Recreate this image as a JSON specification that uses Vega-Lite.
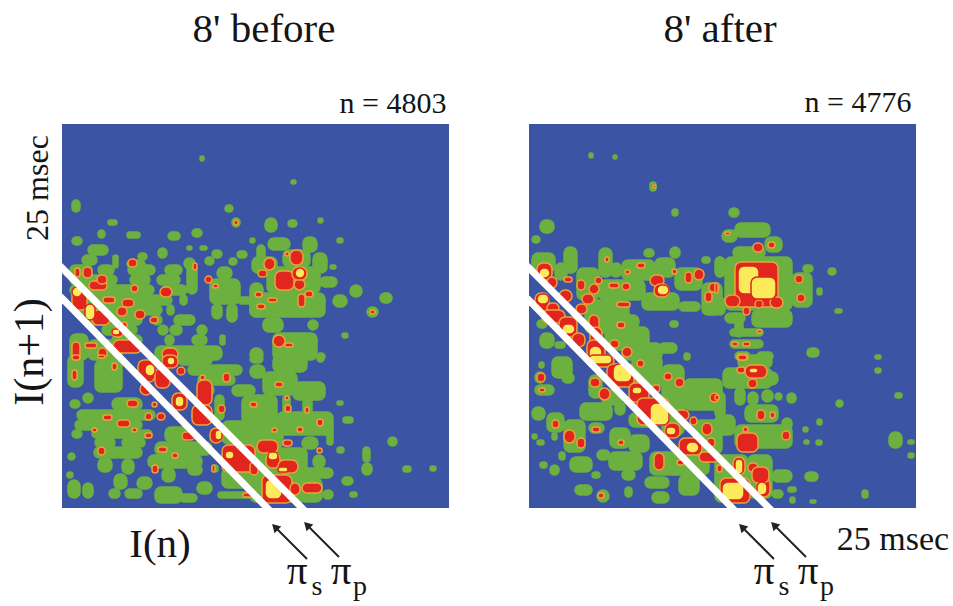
{"$schema":"https://vega.github.io/schema/vega-lite/v6.json","padding":{"left":9,"top":9,"right":0,"bottom":0},"spacing":80,"config":{"view":{"fill":"#3b54a4","stroke":null},"text":{"font":"Liberation Serif","color":"#151515"}},"datasets":{"before":[
{"x":10,"x2":18,"y":76,"y2":88,"l":"g"},{"x":138,"x2":142,"y":32,"y2":37,"l":"g"},{"x":229,"x2":234,"y":56,"y2":60,"l":"g"},{"x":163,"x2":171,"y":81,"y2":88,"l":"g"},{"x":170,"x2":178,"y":94,"y2":103,"l":"g"},{"x":46,"x2":55,"y":96,"y2":101,"l":"g"},{"x":36,"x2":43,"y":106,"y2":114,"l":"g"},{"x":65,"x2":78,"y":108,"y2":114,"l":"g"},{"x":10,"x2":20,"y":113,"y2":121,"l":"g"},{"x":106,"x2":118,"y":108,"y2":116,"l":"g"},{"x":130,"x2":140,"y":105,"y2":113,"l":"g"},{"x":125,"x2":130,"y":122,"y2":126,"l":"g"},{"x":138,"x2":145,"y":122,"y2":126,"l":"g"},{"x":96,"x2":105,"y":124,"y2":134,"l":"g"},
{"x":26,"x2":46,"y":121,"y2":131,"l":"g"},{"x":20,"x2":35,"y":131,"y2":141,"l":"g"},{"x":76,"x2":85,"y":129,"y2":136,"l":"g"},{"x":51,"x2":56,"y":131,"y2":144,"l":"g"},{"x":65,"x2":83,"y":136,"y2":144,"l":"g"},{"x":8,"x2":30,"y":141,"y2":151,"l":"g"},{"x":36,"x2":52,"y":141,"y2":151,"l":"g"},{"x":66,"x2":93,"y":141,"y2":151,"l":"g"},{"x":103,"x2":120,"y":141,"y2":151,"l":"g"},{"x":8,"x2":55,"y":151,"y2":161,"l":"g"},{"x":68,"x2":88,"y":151,"y2":161,"l":"g"},{"x":95,"x2":118,"y":151,"y2":161,"l":"g"},{"x":8,"x2":92,"y":161,"y2":171,"l":"g"},{"x":100,"x2":125,"y":161,"y2":171,"l":"g"},{"x":10,"x2":110,"y":171,"y2":181,"l":"g"},{"x":118,"x2":125,"y":171,"y2":181,"l":"g"},{"x":15,"x2":100,"y":181,"y2":191,"l":"g"},{"x":105,"x2":112,"y":181,"y2":191,"l":"g"},{"x":20,"x2":80,"y":191,"y2":201,"l":"g"},{"x":90,"x2":100,"y":191,"y2":201,"l":"g"},{"x":112,"x2":133,"y":191,"y2":201,"l":"g"},{"x":40,"x2":75,"y":201,"y2":211,"l":"g"},{"x":96,"x2":106,"y":201,"y2":211,"l":"g"},{"x":108,"x2":120,"y":201,"y2":211,"l":"g"},{"x":135,"x2":145,"y":201,"y2":211,"l":"g"},{"x":50,"x2":80,"y":211,"y2":221,"l":"g"},{"x":103,"x2":112,"y":211,"y2":221,"l":"g"},{"x":130,"x2":145,"y":211,"y2":221,"l":"g"},{"x":158,"x2":163,"y":211,"y2":221,"l":"g"},
{"x":122,"x2":133,"y":134,"y2":145,"l":"g"},{"x":125,"x2":135,"y":142,"y2":170,"l":"g"},{"x":143,"x2":152,"y":133,"y2":141,"l":"g"},{"x":150,"x2":160,"y":126,"y2":134,"l":"g"},{"x":167,"x2":175,"y":134,"y2":141,"l":"g"},{"x":175,"x2":185,"y":127,"y2":134,"l":"g"},{"x":155,"x2":170,"y":143,"y2":155,"l":"g"},{"x":148,"x2":178,"y":155,"y2":180,"l":"g"},{"x":150,"x2":160,"y":180,"y2":195,"l":"g"},{"x":165,"x2":175,"y":180,"y2":198,"l":"g"},{"x":176,"x2":193,"y":173,"y2":180,"l":"g"},
{"x":8,"x2":26,"y":210,"y2":236,"l":"g"},{"x":26,"x2":60,"y":216,"y2":236,"l":"g"},{"x":93,"x2":160,"y":222,"y2":236,"l":"g"},
{"x":6,"x2":21,"y":231,"y2":263,"l":"g"},{"x":33,"x2":60,"y":236,"y2":268,"l":"g"},{"x":21,"x2":31,"y":269,"y2":279,"l":"g"},{"x":8,"x2":18,"y":276,"y2":284,"l":"g"},{"x":50,"x2":80,"y":274,"y2":286,"l":"g"},{"x":15,"x2":93,"y":286,"y2":296,"l":"g"},{"x":13,"x2":80,"y":296,"y2":306,"l":"g"},{"x":10,"x2":20,"y":306,"y2":314,"l":"g"},{"x":30,"x2":90,"y":306,"y2":314,"l":"g"},{"x":33,"x2":53,"y":314,"y2":323,"l":"g"},{"x":60,"x2":83,"y":314,"y2":323,"l":"g"},{"x":32,"x2":60,"y":323,"y2":334,"l":"g"},{"x":53,"x2":80,"y":323,"y2":334,"l":"g"},{"x":36,"x2":50,"y":334,"y2":348,"l":"g"},{"x":60,"x2":72,"y":335,"y2":350,"l":"g"},{"x":52,"x2":65,"y":350,"y2":365,"l":"g"},{"x":47,"x2":58,"y":365,"y2":374,"l":"g"},{"x":5,"x2":11,"y":348,"y2":354,"l":"g"},{"x":6,"x2":18,"y":356,"y2":374,"l":"g"},{"x":21,"x2":31,"y":359,"y2":374,"l":"g"},{"x":75,"x2":90,"y":353,"y2":365,"l":"g"},{"x":63,"x2":80,"y":365,"y2":374,"l":"g"},{"x":6,"x2":13,"y":329,"y2":336,"l":"g"},{"x":93,"x2":120,"y":363,"y2":379,"l":"g"},{"x":118,"x2":135,"y":370,"y2":378,"l":"g"},{"x":135,"x2":150,"y":358,"y2":370,"l":"g"},{"x":156,"x2":193,"y":368,"y2":374,"l":"g"},
{"x":103,"x2":126,"y":303,"y2":318,"l":"g"},{"x":93,"x2":150,"y":318,"y2":331,"l":"g"},{"x":86,"x2":140,"y":331,"y2":344,"l":"g"},{"x":100,"x2":113,"y":344,"y2":358,"l":"g"},{"x":126,"x2":140,"y":341,"y2":351,"l":"g"},{"x":150,"x2":156,"y":341,"y2":348,"l":"g"},{"x":160,"x2":193,"y":344,"y2":364,"l":"g"},
{"x":116,"x2":150,"y":231,"y2":241,"l":"g"},{"x":126,"x2":180,"y":241,"y2":251,"l":"g"},{"x":136,"x2":173,"y":251,"y2":261,"l":"g"},{"x":143,"x2":152,"y":261,"y2":271,"l":"g"},{"x":170,"x2":193,"y":261,"y2":272,"l":"g"},{"x":153,"x2":162,"y":271,"y2":296,"l":"g"},{"x":180,"x2":193,"y":272,"y2":300,"l":"g"},{"x":160,"x2":193,"y":297,"y2":320,"l":"g"},
{"x":203,"x2":215,"y":94,"y2":108,"l":"g"},{"x":226,"x2":235,"y":96,"y2":103,"l":"g"},{"x":256,"x2":261,"y":94,"y2":99,"l":"g"},{"x":188,"x2":193,"y":114,"y2":119,"l":"g"},{"x":206,"x2":228,"y":114,"y2":126,"l":"g"},{"x":241,"x2":255,"y":113,"y2":128,"l":"g"},{"x":275,"x2":281,"y":114,"y2":119,"l":"g"},{"x":195,"x2":203,"y":121,"y2":139,"l":"g"},{"x":190,"x2":215,"y":133,"y2":149,"l":"g"},{"x":251,"x2":265,"y":129,"y2":149,"l":"g"},{"x":268,"x2":274,"y":141,"y2":145,"l":"g"},{"x":221,"x2":248,"y":126,"y2":143,"l":"g"},{"x":205,"x2":258,"y":143,"y2":169,"l":"g"},{"x":258,"x2":275,"y":153,"y2":163,"l":"g"},{"x":188,"x2":263,"y":169,"y2":193,"l":"g"},{"x":188,"x2":201,"y":159,"y2":193,"l":"g"},{"x":271,"x2":285,"y":171,"y2":183,"l":"g"},{"x":288,"x2":300,"y":161,"y2":173,"l":"g"},{"x":318,"x2":330,"y":169,"y2":179,"l":"g"},{"x":305,"x2":316,"y":183,"y2":193,"l":"g"},{"x":201,"x2":221,"y":194,"y2":208,"l":"g"},{"x":246,"x2":256,"y":196,"y2":206,"l":"g"},{"x":280,"x2":286,"y":209,"y2":214,"l":"g"},{"x":211,"x2":255,"y":209,"y2":236,"l":"g"},{"x":188,"x2":201,"y":224,"y2":236,"l":"g"},{"x":255,"x2":263,"y":229,"y2":236,"l":"g"},
{"x":188,"x2":201,"y":231,"y2":239,"l":"g"},{"x":211,"x2":245,"y":231,"y2":248,"l":"g"},{"x":255,"x2":262,"y":231,"y2":238,"l":"g"},{"x":188,"x2":203,"y":241,"y2":254,"l":"g"},{"x":201,"x2":235,"y":248,"y2":271,"l":"g"},{"x":231,"x2":263,"y":258,"y2":276,"l":"g"},{"x":221,"x2":228,"y":271,"y2":291,"l":"g"},{"x":241,"x2":250,"y":273,"y2":291,"l":"g"},{"x":188,"x2":215,"y":271,"y2":308,"l":"g"},{"x":215,"x2":271,"y":288,"y2":311,"l":"g"},{"x":265,"x2":271,"y":304,"y2":321,"l":"g"},{"x":240,"x2":256,"y":313,"y2":325,"l":"g"},{"x":218,"x2":245,"y":325,"y2":335,"l":"g"},{"x":251,"x2":263,"y":331,"y2":344,"l":"g"},{"x":235,"x2":271,"y":344,"y2":354,"l":"g"},{"x":238,"x2":260,"y":354,"y2":378,"l":"g"},{"x":261,"x2":271,"y":366,"y2":375,"l":"g"},{"x":280,"x2":291,"y":353,"y2":361,"l":"g"},{"x":288,"x2":295,"y":368,"y2":373,"l":"g"},{"x":275,"x2":281,"y":277,"y2":281,"l":"g"},{"x":281,"x2":291,"y":293,"y2":299,"l":"g"},{"x":275,"x2":282,"y":323,"y2":329,"l":"g"},{"x":301,"x2":308,"y":323,"y2":338,"l":"g"},{"x":300,"x2":310,"y":339,"y2":351,"l":"g"},{"x":326,"x2":335,"y":313,"y2":322,"l":"g"},{"x":341,"x2":349,"y":342,"y2":348,"l":"g"},{"x":368,"x2":374,"y":342,"y2":347,"l":"g"},{"x":188,"x2":221,"y":304,"y2":324,"l":"g"},{"x":188,"x2":245,"y":324,"y2":378,"l":"g"},
{"x":66,"x2":75,"y":135,"y2":143,"l":"r"},{"x":13,"x2":18,"y":144,"y2":153,"l":"r"},{"x":21,"x2":30,"y":143,"y2":154,"l":"r"},{"x":27,"x2":45,"y":157,"y2":166,"l":"r"},{"x":35,"x2":45,"y":151,"y2":160,"l":"r"},{"x":10,"x2":25,"y":163,"y2":186,"l":"r"},{"x":41,"x2":53,"y":173,"y2":179,"l":"r"},{"x":55,"x2":65,"y":183,"y2":192,"l":"r"},{"x":60,"x2":72,"y":175,"y2":183,"l":"r"},{"x":30,"x2":48,"y":186,"y2":201,"l":"r"},{"x":69,"x2":76,"y":161,"y2":168,"l":"r"},{"x":73,"x2":83,"y":186,"y2":195,"l":"r"},{"x":98,"x2":110,"y":163,"y2":173,"l":"r"},{"x":88,"x2":96,"y":193,"y2":199,"l":"r"},{"x":143,"x2":150,"y":152,"y2":159,"l":"r"},{"x":151,"x2":156,"y":160,"y2":164,"l":"r"},{"x":131,"x2":135,"y":139,"y2":146,"l":"r"},{"x":50,"x2":61,"y":204,"y2":213,"l":"r"},{"x":51,"x2":80,"y":216,"y2":229,"l":"r"},{"x":60,"x2":65,"y":198,"y2":204,"l":"r"},{"x":100,"x2":116,"y":224,"y2":236,"l":"r"},{"x":10,"x2":18,"y":218,"y2":236,"l":"r"},{"x":23,"x2":35,"y":219,"y2":224,"l":"r"},{"x":36,"x2":45,"y":224,"y2":234,"l":"r"},{"x":172,"x2":176,"y":96,"y2":101,"l":"r"},
{"x":10,"x2":18,"y":231,"y2":236,"l":"r"},{"x":10,"x2":15,"y":246,"y2":256,"l":"r"},{"x":36,"x2":43,"y":231,"y2":234,"l":"r"},{"x":50,"x2":55,"y":239,"y2":246,"l":"r"},{"x":76,"x2":93,"y":236,"y2":258,"l":"r"},{"x":93,"x2":108,"y":244,"y2":264,"l":"r"},{"x":100,"x2":116,"y":231,"y2":244,"l":"r"},{"x":78,"x2":90,"y":259,"y2":271,"l":"r"},{"x":115,"x2":123,"y":243,"y2":251,"l":"r"},{"x":110,"x2":125,"y":269,"y2":286,"l":"r"},{"x":135,"x2":150,"y":256,"y2":281,"l":"r"},{"x":130,"x2":150,"y":281,"y2":301,"l":"r"},{"x":161,"x2":168,"y":249,"y2":258,"l":"r"},{"x":156,"x2":163,"y":281,"y2":289,"l":"r"},{"x":138,"x2":143,"y":251,"y2":256,"l":"r"},{"x":120,"x2":133,"y":308,"y2":316,"l":"r"},{"x":148,"x2":160,"y":304,"y2":319,"l":"r"},{"x":160,"x2":193,"y":321,"y2":348,"l":"r"},{"x":65,"x2":76,"y":276,"y2":283,"l":"r"},{"x":90,"x2":95,"y":278,"y2":283,"l":"r"},{"x":83,"x2":90,"y":289,"y2":296,"l":"r"},{"x":95,"x2":103,"y":289,"y2":296,"l":"r"},{"x":41,"x2":50,"y":291,"y2":296,"l":"r"},{"x":55,"x2":68,"y":296,"y2":303,"l":"r"},{"x":30,"x2":35,"y":304,"y2":308,"l":"r"},{"x":70,"x2":75,"y":304,"y2":308,"l":"r"},{"x":83,"x2":90,"y":309,"y2":314,"l":"r"},{"x":36,"x2":43,"y":323,"y2":331,"l":"r"},{"x":96,"x2":105,"y":323,"y2":328,"l":"r"},{"x":110,"x2":116,"y":329,"y2":334,"l":"r"},{"x":90,"x2":96,"y":341,"y2":349,"l":"r"},{"x":150,"x2":153,"y":341,"y2":348,"l":"r"},{"x":181,"x2":193,"y":369,"y2":373,"l":"r"},
{"x":202,"x2":213,"y":134,"y2":146,"l":"r"},{"x":196,"x2":205,"y":146,"y2":153,"l":"r"},{"x":228,"x2":241,"y":126,"y2":141,"l":"r"},{"x":213,"x2":232,"y":147,"y2":166,"l":"r"},{"x":232,"x2":243,"y":155,"y2":166,"l":"r"},{"x":230,"x2":245,"y":143,"y2":156,"l":"r"},{"x":236,"x2":243,"y":170,"y2":183,"l":"r"},{"x":243,"x2":251,"y":167,"y2":173,"l":"r"},{"x":193,"x2":200,"y":168,"y2":173,"l":"r"},{"x":206,"x2":215,"y":174,"y2":178,"l":"r"},{"x":195,"x2":203,"y":180,"y2":185,"l":"r"},{"x":223,"x2":227,"y":128,"y2":132,"l":"r"},{"x":211,"x2":223,"y":211,"y2":223,"l":"r"},{"x":223,"x2":231,"y":219,"y2":223,"l":"r"},{"x":308,"x2":313,"y":186,"y2":190,"l":"r"},
{"x":213,"x2":221,"y":258,"y2":263,"l":"r"},{"x":223,"x2":227,"y":272,"y2":276,"l":"r"},{"x":223,"x2":229,"y":281,"y2":288,"l":"r"},{"x":243,"x2":247,"y":283,"y2":289,"l":"r"},{"x":188,"x2":195,"y":278,"y2":283,"l":"r"},{"x":255,"x2":261,"y":295,"y2":302,"l":"r"},{"x":235,"x2":241,"y":303,"y2":308,"l":"r"},{"x":210,"x2":215,"y":304,"y2":308,"l":"r"},{"x":221,"x2":230,"y":316,"y2":322,"l":"r"},{"x":255,"x2":260,"y":324,"y2":329,"l":"r"},{"x":195,"x2":216,"y":316,"y2":329,"l":"r"},{"x":204,"x2":218,"y":329,"y2":344,"l":"r"},{"x":188,"x2":196,"y":338,"y2":351,"l":"r"},{"x":216,"x2":236,"y":336,"y2":349,"l":"r"},{"x":200,"x2":230,"y":351,"y2":379,"l":"r"},{"x":228,"x2":238,"y":359,"y2":371,"l":"r"},{"x":240,"x2":260,"y":359,"y2":369,"l":"r"},
{"x":10,"x2":20,"y":163,"y2":173,"l":"y"},{"x":23,"x2":33,"y":180,"y2":196,"l":"y"},{"x":50,"x2":58,"y":205,"y2":211,"l":"y"},{"x":83,"x2":93,"y":240,"y2":252,"l":"y"},{"x":105,"x2":113,"y":233,"y2":241,"l":"y"},{"x":113,"x2":122,"y":272,"y2":283,"l":"y"},{"x":153,"x2":160,"y":306,"y2":316,"l":"y"},{"x":163,"x2":172,"y":327,"y2":335,"l":"y"},{"x":233,"x2":243,"y":144,"y2":154,"l":"y"},{"x":206,"x2":216,"y":328,"y2":336,"l":"y"},{"x":216,"x2":226,"y":343,"y2":348,"l":"y"},{"x":203,"x2":220,"y":355,"y2":375,"l":"y"}],
"after":[
{"x":11,"x2":25,"y":96,"y2":109,"l":"g"},{"x":3,"x2":11,"y":112,"y2":119,"l":"g"},{"x":143,"x2":149,"y":85,"y2":92,"l":"g"},{"x":60,"x2":64,"y":29,"y2":34,"l":"g"},{"x":84,"x2":88,"y":31,"y2":35,"l":"g"},{"x":121,"x2":127,"y":58,"y2":67,"l":"g"},{"x":3,"x2":26,"y":129,"y2":148,"l":"g"},{"x":35,"x2":48,"y":123,"y2":149,"l":"g"},{"x":26,"x2":38,"y":139,"y2":156,"l":"g"},{"x":70,"x2":83,"y":124,"y2":153,"l":"g"},{"x":115,"x2":125,"y":125,"y2":133,"l":"g"},{"x":141,"x2":151,"y":123,"y2":134,"l":"g"},{"x":48,"x2":70,"y":144,"y2":176,"l":"g"},{"x":81,"x2":93,"y":139,"y2":153,"l":"g"},{"x":93,"x2":126,"y":136,"y2":156,"l":"g"},{"x":126,"x2":146,"y":134,"y2":153,"l":"g"},{"x":146,"x2":173,"y":144,"y2":166,"l":"g"},{"x":173,"x2":181,"y":133,"y2":139,"l":"g"},{"x":188,"x2":193,"y":133,"y2":153,"l":"g"},{"x":70,"x2":116,"y":156,"y2":176,"l":"g"},{"x":113,"x2":150,"y":169,"y2":186,"l":"g"},{"x":150,"x2":171,"y":178,"y2":187,"l":"g"},{"x":173,"x2":193,"y":159,"y2":191,"l":"g"},{"x":56,"x2":100,"y":176,"y2":209,"l":"g"},{"x":76,"x2":120,"y":203,"y2":226,"l":"g"},{"x":86,"x2":110,"y":191,"y2":204,"l":"g"},{"x":141,"x2":149,"y":197,"y2":203,"l":"g"},{"x":11,"x2":25,"y":209,"y2":224,"l":"g"},{"x":26,"x2":36,"y":218,"y2":224,"l":"g"},{"x":8,"x2":18,"y":196,"y2":204,"l":"g"},{"x":130,"x2":148,"y":219,"y2":229,"l":"g"},{"x":155,"x2":161,"y":229,"y2":236,"l":"g"},{"x":93,"x2":133,"y":219,"y2":236,"l":"g"},
{"x":23,"x2":43,"y":233,"y2":254,"l":"g"},{"x":33,"x2":45,"y":249,"y2":259,"l":"g"},{"x":10,"x2":15,"y":238,"y2":244,"l":"g"},{"x":6,"x2":16,"y":248,"y2":259,"l":"g"},{"x":6,"x2":25,"y":261,"y2":271,"l":"g"},{"x":3,"x2":16,"y":283,"y2":296,"l":"g"},{"x":18,"x2":35,"y":289,"y2":308,"l":"g"},{"x":3,"x2":8,"y":310,"y2":315,"l":"g"},{"x":8,"x2":15,"y":316,"y2":321,"l":"g"},{"x":23,"x2":28,"y":309,"y2":316,"l":"g"},{"x":30,"x2":36,"y":328,"y2":336,"l":"g"},{"x":11,"x2":18,"y":338,"y2":344,"l":"g"},{"x":21,"x2":30,"y":341,"y2":351,"l":"g"},{"x":35,"x2":56,"y":296,"y2":328,"l":"g"},{"x":60,"x2":75,"y":299,"y2":309,"l":"g"},{"x":41,"x2":63,"y":333,"y2":348,"l":"g"},{"x":63,"x2":71,"y":348,"y2":354,"l":"g"},{"x":46,"x2":63,"y":361,"y2":371,"l":"g"},{"x":68,"x2":80,"y":366,"y2":378,"l":"g"},{"x":68,"x2":81,"y":326,"y2":336,"l":"g"},{"x":51,"x2":83,"y":279,"y2":296,"l":"g"},{"x":73,"x2":93,"y":266,"y2":281,"l":"g"},{"x":60,"x2":73,"y":251,"y2":274,"l":"g"},{"x":86,"x2":96,"y":278,"y2":291,"l":"g"},{"x":81,"x2":101,"y":304,"y2":324,"l":"g"},{"x":100,"x2":120,"y":311,"y2":328,"l":"g"},{"x":80,"x2":113,"y":328,"y2":346,"l":"g"},{"x":93,"x2":106,"y":346,"y2":356,"l":"g"},{"x":100,"x2":126,"y":289,"y2":303,"l":"g"},{"x":96,"x2":103,"y":363,"y2":373,"l":"g"},{"x":116,"x2":140,"y":353,"y2":364,"l":"g"},{"x":123,"x2":140,"y":368,"y2":379,"l":"g"},{"x":121,"x2":180,"y":328,"y2":351,"l":"g"},{"x":150,"x2":170,"y":351,"y2":371,"l":"g"},{"x":103,"x2":133,"y":231,"y2":264,"l":"g"},{"x":133,"x2":155,"y":241,"y2":311,"l":"g"},{"x":155,"x2":193,"y":255,"y2":286,"l":"g"},{"x":165,"x2":193,"y":296,"y2":330,"l":"g"},
{"x":200,"x2":210,"y":84,"y2":93,"l":"g"},{"x":193,"x2":208,"y":106,"y2":118,"l":"g"},{"x":206,"x2":241,"y":99,"y2":113,"l":"g"},{"x":236,"x2":253,"y":113,"y2":128,"l":"g"},{"x":204,"x2":236,"y":123,"y2":134,"l":"g"},{"x":186,"x2":196,"y":133,"y2":153,"l":"g"},{"x":196,"x2":263,"y":133,"y2":186,"l":"g"},{"x":263,"x2":283,"y":149,"y2":183,"l":"g"},{"x":274,"x2":284,"y":141,"y2":148,"l":"g"},{"x":223,"x2":263,"y":186,"y2":203,"l":"g"},{"x":196,"x2":216,"y":189,"y2":199,"l":"g"},{"x":186,"x2":196,"y":173,"y2":191,"l":"g"},{"x":299,"x2":307,"y":144,"y2":151,"l":"g"},{"x":288,"x2":293,"y":164,"y2":171,"l":"g"},{"x":306,"x2":313,"y":185,"y2":189,"l":"g"},{"x":206,"x2":214,"y":196,"y2":213,"l":"g"},{"x":201,"x2":234,"y":205,"y2":212,"l":"g"},{"x":201,"x2":234,"y":216,"y2":224,"l":"g"},{"x":278,"x2":290,"y":224,"y2":233,"l":"g"},{"x":346,"x2":352,"y":231,"y2":235,"l":"g"},{"x":206,"x2":221,"y":228,"y2":236,"l":"g"},{"x":228,"x2":244,"y":228,"y2":236,"l":"g"},
{"x":209,"x2":243,"y":231,"y2":244,"l":"g"},{"x":194,"x2":243,"y":244,"y2":264,"l":"g"},{"x":236,"x2":249,"y":248,"y2":261,"l":"g"},{"x":206,"x2":216,"y":264,"y2":281,"l":"g"},{"x":219,"x2":229,"y":268,"y2":281,"l":"g"},{"x":233,"x2":244,"y":266,"y2":278,"l":"g"},{"x":246,"x2":253,"y":269,"y2":276,"l":"g"},{"x":258,"x2":267,"y":269,"y2":279,"l":"g"},{"x":186,"x2":196,"y":268,"y2":294,"l":"g"},{"x":216,"x2":249,"y":281,"y2":298,"l":"g"},{"x":253,"x2":263,"y":294,"y2":306,"l":"g"},{"x":186,"x2":206,"y":291,"y2":311,"l":"g"},{"x":206,"x2":263,"y":301,"y2":324,"l":"g"},{"x":219,"x2":243,"y":331,"y2":374,"l":"g"},{"x":186,"x2":219,"y":331,"y2":378,"l":"g"},{"x":243,"x2":263,"y":346,"y2":358,"l":"g"},{"x":243,"x2":254,"y":366,"y2":374,"l":"g"},{"x":259,"x2":267,"y":363,"y2":368,"l":"g"},{"x":261,"x2":266,"y":373,"y2":379,"l":"g"},{"x":281,"x2":287,"y":376,"y2":379,"l":"g"},{"x":276,"x2":289,"y":348,"y2":357,"l":"g"},{"x":333,"x2":339,"y":366,"y2":374,"l":"g"},{"x":360,"x2":373,"y":308,"y2":324,"l":"g"},{"x":379,"x2":385,"y":316,"y2":320,"l":"g"},{"x":379,"x2":385,"y":329,"y2":334,"l":"g"},{"x":274,"x2":279,"y":303,"y2":308,"l":"g"},{"x":288,"x2":293,"y":295,"y2":301,"l":"g"},{"x":275,"x2":280,"y":316,"y2":320,"l":"g"},{"x":287,"x2":293,"y":316,"y2":321,"l":"g"},{"x":307,"x2":314,"y":276,"y2":283,"l":"g"},{"x":366,"x2":373,"y":269,"y2":274,"l":"g"},{"x":346,"x2":352,"y":244,"y2":249,"l":"g"},
{"x":8,"x2":23,"y":139,"y2":156,"l":"r"},{"x":18,"x2":28,"y":153,"y2":164,"l":"r"},{"x":35,"x2":43,"y":153,"y2":158,"l":"r"},{"x":48,"x2":56,"y":156,"y2":166,"l":"r"},{"x":6,"x2":20,"y":169,"y2":189,"l":"r"},{"x":18,"x2":30,"y":179,"y2":189,"l":"r"},{"x":30,"x2":43,"y":166,"y2":178,"l":"r"},{"x":13,"x2":36,"y":186,"y2":199,"l":"r"},{"x":66,"x2":73,"y":153,"y2":160,"l":"r"},{"x":60,"x2":70,"y":160,"y2":170,"l":"r"},{"x":53,"x2":65,"y":170,"y2":180,"l":"r"},{"x":47,"x2":58,"y":180,"y2":190,"l":"r"},{"x":30,"x2":48,"y":193,"y2":213,"l":"r"},{"x":43,"x2":56,"y":209,"y2":223,"l":"r"},{"x":60,"x2":70,"y":191,"y2":209,"l":"r"},{"x":61,"x2":73,"y":203,"y2":223,"l":"r"},{"x":58,"x2":76,"y":216,"y2":236,"l":"r"},{"x":81,"x2":90,"y":216,"y2":224,"l":"r"},{"x":93,"x2":103,"y":223,"y2":233,"l":"r"},{"x":88,"x2":96,"y":198,"y2":204,"l":"r"},{"x":80,"x2":90,"y":159,"y2":164,"l":"r"},{"x":93,"x2":101,"y":159,"y2":166,"l":"r"},{"x":88,"x2":101,"y":178,"y2":183,"l":"r"},{"x":96,"x2":101,"y":146,"y2":150,"l":"r"},{"x":108,"x2":116,"y":139,"y2":144,"l":"r"},{"x":76,"x2":80,"y":133,"y2":138,"l":"r"},{"x":121,"x2":135,"y":151,"y2":162,"l":"r"},{"x":125,"x2":140,"y":160,"y2":173,"l":"r"},{"x":143,"x2":148,"y":145,"y2":150,"l":"r"},{"x":156,"x2":163,"y":148,"y2":159,"l":"r"},{"x":165,"x2":175,"y":145,"y2":156,"l":"r"},{"x":180,"x2":190,"y":159,"y2":168,"l":"r"},{"x":176,"x2":183,"y":168,"y2":178,"l":"r"},{"x":124,"x2":127,"y":61,"y2":64,"l":"r"},
{"x":8,"x2":16,"y":249,"y2":258,"l":"r"},{"x":10,"x2":16,"y":264,"y2":268,"l":"r"},{"x":61,"x2":71,"y":254,"y2":263,"l":"r"},{"x":70,"x2":81,"y":264,"y2":276,"l":"r"},{"x":23,"x2":30,"y":296,"y2":304,"l":"r"},{"x":35,"x2":46,"y":306,"y2":319,"l":"r"},{"x":48,"x2":56,"y":314,"y2":324,"l":"r"},{"x":63,"x2":71,"y":303,"y2":308,"l":"r"},{"x":89,"x2":95,"y":316,"y2":321,"l":"r"},{"x":69,"x2":75,"y":369,"y2":374,"l":"r"},{"x":58,"x2":85,"y":231,"y2":243,"l":"r"},{"x":78,"x2":105,"y":240,"y2":263,"l":"r"},{"x":100,"x2":120,"y":259,"y2":278,"l":"r"},{"x":108,"x2":140,"y":274,"y2":301,"l":"r"},{"x":136,"x2":151,"y":299,"y2":314,"l":"r"},{"x":150,"x2":173,"y":314,"y2":331,"l":"r"},{"x":170,"x2":190,"y":328,"y2":338,"l":"r"},{"x":125,"x2":135,"y":329,"y2":346,"l":"r"},{"x":148,"x2":155,"y":336,"y2":341,"l":"r"},{"x":108,"x2":115,"y":236,"y2":243,"l":"r"},{"x":135,"x2":143,"y":249,"y2":256,"l":"r"},{"x":146,"x2":155,"y":254,"y2":263,"l":"r"},{"x":123,"x2":131,"y":261,"y2":268,"l":"r"},{"x":181,"x2":190,"y":269,"y2":278,"l":"r"},{"x":146,"x2":160,"y":286,"y2":296,"l":"r"},{"x":161,"x2":168,"y":293,"y2":301,"l":"r"},{"x":173,"x2":183,"y":299,"y2":311,"l":"r"},{"x":178,"x2":186,"y":314,"y2":323,"l":"r"},
{"x":224,"x2":234,"y":119,"y2":128,"l":"r"},{"x":239,"x2":246,"y":118,"y2":124,"l":"r"},{"x":196,"x2":201,"y":108,"y2":111,"l":"r"},{"x":206,"x2":249,"y":138,"y2":183,"l":"r"},{"x":196,"x2":211,"y":171,"y2":183,"l":"r"},{"x":241,"x2":254,"y":173,"y2":184,"l":"r"},{"x":226,"x2":234,"y":176,"y2":184,"l":"r"},{"x":266,"x2":274,"y":151,"y2":159,"l":"r"},{"x":268,"x2":276,"y":170,"y2":178,"l":"r"},{"x":214,"x2":221,"y":183,"y2":191,"l":"r"},{"x":186,"x2":189,"y":159,"y2":169,"l":"r"},{"x":203,"x2":209,"y":218,"y2":222,"l":"r"},{"x":214,"x2":221,"y":218,"y2":222,"l":"r"},{"x":228,"x2":233,"y":206,"y2":209,"l":"r"},{"x":208,"x2":219,"y":230,"y2":236,"l":"r"},
{"x":208,"x2":216,"y":243,"y2":249,"l":"r"},{"x":216,"x2":238,"y":241,"y2":254,"l":"r"},{"x":219,"x2":228,"y":255,"y2":264,"l":"r"},{"x":209,"x2":218,"y":231,"y2":236,"l":"r"},{"x":186,"x2":190,"y":271,"y2":276,"l":"r"},{"x":228,"x2":236,"y":286,"y2":296,"l":"r"},{"x":241,"x2":246,"y":288,"y2":294,"l":"r"},{"x":214,"x2":219,"y":303,"y2":308,"l":"r"},{"x":253,"x2":261,"y":307,"y2":316,"l":"r"},{"x":208,"x2":229,"y":309,"y2":328,"l":"r"},{"x":204,"x2":216,"y":333,"y2":351,"l":"r"},{"x":219,"x2":229,"y":339,"y2":348,"l":"r"},{"x":191,"x2":221,"y":354,"y2":379,"l":"r"},{"x":228,"x2":241,"y":354,"y2":373,"l":"r"},{"x":223,"x2":240,"y":343,"y2":359,"l":"r"},{"x":188,"x2":193,"y":341,"y2":348,"l":"r"},
{"x":10,"x2":21,"y":144,"y2":154,"l":"y"},{"x":8,"x2":20,"y":170,"y2":180,"l":"y"},{"x":33,"x2":46,"y":200,"y2":210,"l":"y"},{"x":60,"x2":73,"y":222,"y2":236,"l":"y"},{"x":128,"x2":140,"y":161,"y2":171,"l":"y"},{"x":60,"x2":83,"y":231,"y2":240,"l":"y"},{"x":84,"x2":103,"y":240,"y2":258,"l":"y"},{"x":103,"x2":113,"y":263,"y2":270,"l":"y"},{"x":121,"x2":140,"y":279,"y2":301,"l":"y"},{"x":137,"x2":147,"y":303,"y2":311,"l":"y"},{"x":157,"x2":170,"y":318,"y2":329,"l":"y"},{"x":209,"x2":230,"y":142,"y2":170,"l":"y"},{"x":222,"x2":247,"y":153,"y2":175,"l":"y"},{"x":220,"x2":229,"y":244,"y2":249,"l":"y"},{"x":206,"x2":214,"y":335,"y2":350,"l":"y"},{"x":193,"x2":215,"y":358,"y2":376,"l":"y"},{"x":228,"x2":238,"y":358,"y2":371,"l":"y"}],
"stripes":[{"s":"p","x":-10,"y":134},{"s":"p","x":250,"y":394},{"s":"s","x":-10,"y":164},{"s":"s","x":215,"y":394}],
"stripes2":[{"s":"p","x":-10,"y":134},{"s":"p","x":250,"y":394},{"s":"s","x":-10,"y":166},{"s":"s","x":213,"y":394}],
"arrows":[{"x":245,"y":435,"x2":213,"y2":403},{"x":277,"y":433,"x2":245,"y2":401}],
"labelsA":[{"t":"8' before","k":"title","x":202,"y":-94},{"t":"n = 4803","k":"count","x":331,"y":-20},{"t":"25 msec","k":"side","x":-24,"y":64},{"t":"I(n+1)","k":"sideBig","x":-32,"y":228},{"t":"I(n)","k":"title","x":98,"y":421},{"t":"π","k":"title","x":235,"y":448},{"t":"s","k":"sub","x":255,"y":463},{"t":"π","k":"title","x":279,"y":448},{"t":"p","k":"sub","x":298,"y":463}],
"labelsB":[{"t":"8' after","k":"title","x":191,"y":-94},{"t":"n = 4776","k":"count","x":329,"y":-21},{"t":"25 msec","k":"count2","x":364,"y":416},{"t":"π","k":"title","x":235,"y":448},{"t":"s","k":"sub","x":255,"y":463},{"t":"π","k":"title","x":279,"y":448},{"t":"p","k":"sub","x":298,"y":463}]},
"hconcat":[
{"width":387,"height":384,"layer":[
{"data":{"name":"before"},"mark":{"type":"rect","cornerRadius":6,"strokeWidth":1.5},"encoding":{"x":{"field":"x","type":"quantitative","axis":null,"scale":{"domain":[0,387],"nice":false}},"x2":{"field":"x2"},"y":{"field":"y","type":"quantitative","axis":null,"scale":{"domain":[384,0],"nice":false}},"y2":{"field":"y2"},"fill":{"field":"l","type":"nominal","legend":null,"sort":null,"scale":{"domain":["g","r","y"],"range":["#6cb040","#e0261e","#fdea5a"]}},"stroke":{"field":"l","type":"nominal","legend":null,"sort":null,"scale":{"domain":["g","r","y"],"range":["#6cb040","#eda13a","#e0261e"]}}}},
{"data":{"name":"stripes"},"mark":{"type":"line","color":"#ffffff","strokeWidth":7,"clip":true},"encoding":{"x":{"field":"x","type":"quantitative"},"y":{"field":"y","type":"quantitative"},"detail":{"field":"s"}}},
{"data":{"name":"arrows"},"mark":{"type":"rule","color":"#222222","strokeWidth":2},"encoding":{"x":{"field":"x","type":"quantitative"},"y":{"field":"y","type":"quantitative"},"x2":{"field":"x2"},"y2":{"field":"y2"}}},
{"data":{"name":"arrows"},"mark":{"type":"point","shape":"triangle-up","angle":315,"filled":true,"size":90,"color":"#222222","opacity":1},"encoding":{"x":{"field":"x2","type":"quantitative"},"y":{"field":"y2","type":"quantitative"}}},
{"data":{"name":"labelsA"},"mark":{"type":"text"},"encoding":{"x":{"field":"x","type":"quantitative"},"y":{"field":"y","type":"quantitative"},"text":{"field":"t"},"size":{"field":"k","type":"nominal","legend":null,"scale":{"type":"ordinal","domain":["title","count","side","sideBig","sub","count2"],"range":[41,30,32,42,28,34]}},"angle":{"field":"k","type":"nominal","legend":null,"scale":{"type":"ordinal","domain":["title","count","side","sideBig","sub","count2"],"range":[0,0,270,270,0,0]}}}}
]},
{"width":387,"height":384,"layer":[
{"data":{"name":"after"},"mark":{"type":"rect","cornerRadius":6,"strokeWidth":1.5},"encoding":{"x":{"field":"x","type":"quantitative","axis":null,"scale":{"domain":[0,387],"nice":false}},"x2":{"field":"x2"},"y":{"field":"y","type":"quantitative","axis":null,"scale":{"domain":[384,0],"nice":false}},"y2":{"field":"y2"},"fill":{"field":"l","type":"nominal","legend":null,"sort":null,"scale":{"domain":["g","r","y"],"range":["#6cb040","#e0261e","#fdea5a"]}},"stroke":{"field":"l","type":"nominal","legend":null,"sort":null,"scale":{"domain":["g","r","y"],"range":["#6cb040","#eda13a","#e0261e"]}}}},
{"data":{"name":"stripes2"},"mark":{"type":"line","color":"#ffffff","strokeWidth":7,"clip":true},"encoding":{"x":{"field":"x","type":"quantitative"},"y":{"field":"y","type":"quantitative"},"detail":{"field":"s"}}},
{"data":{"name":"arrows"},"mark":{"type":"rule","color":"#222222","strokeWidth":2},"encoding":{"x":{"field":"x","type":"quantitative"},"y":{"field":"y","type":"quantitative"},"x2":{"field":"x2"},"y2":{"field":"y2"}}},
{"data":{"name":"arrows"},"mark":{"type":"point","shape":"triangle-up","angle":315,"filled":true,"size":90,"color":"#222222","opacity":1},"encoding":{"x":{"field":"x2","type":"quantitative"},"y":{"field":"y2","type":"quantitative"}}},
{"data":{"name":"labelsB"},"mark":{"type":"text"},"encoding":{"x":{"field":"x","type":"quantitative"},"y":{"field":"y","type":"quantitative"},"text":{"field":"t"},"size":{"field":"k","type":"nominal","legend":null,"scale":{"type":"ordinal","domain":["title","count","side","sideBig","sub","count2"],"range":[41,30,32,42,28,34]}},"angle":{"field":"k","type":"nominal","legend":null,"scale":{"type":"ordinal","domain":["title","count","side","sideBig","sub","count2"],"range":[0,0,270,270,0,0]}}}}
]}
]}
